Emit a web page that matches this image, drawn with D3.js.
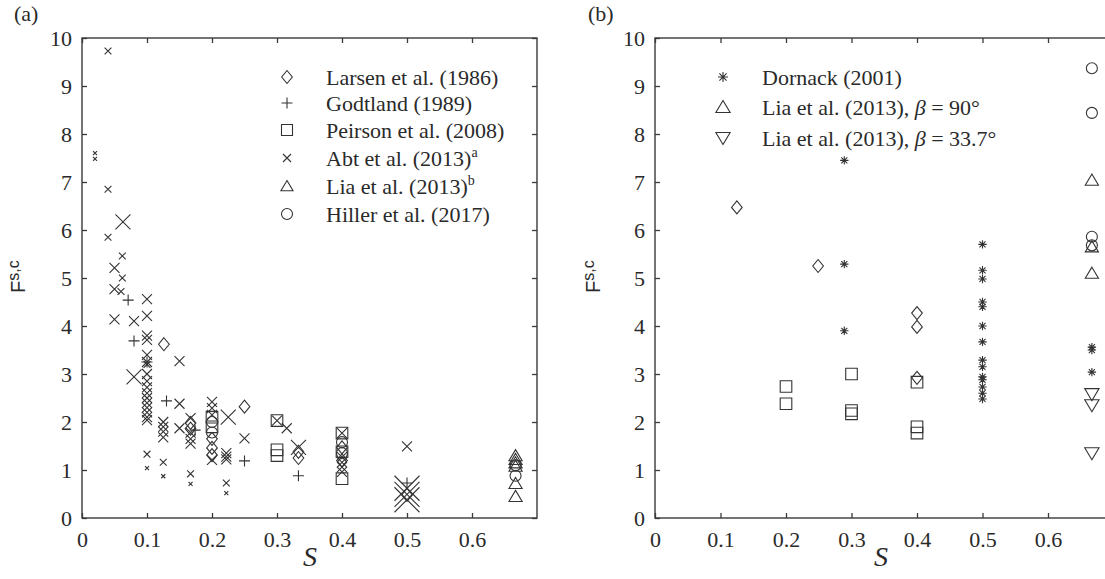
<!DOCTYPE html>
<html><head><meta charset="utf-8">
<script src="https://cdn.jsdelivr.net/npm/d3@7"></script>
<style>body{margin:0;background:#fff}svg{display:block}</style>
</head><body>
<svg id="c" width="1105" height="579"></svg>
<script>
// ---------- data ----------
const xTicks = [0, 0.1, 0.2, 0.3, 0.4, 0.5, 0.6];
const xTickLabels = ["0", "0.1", "0.2", "0.3", "0.4", "0.5", "0.6"];
const yTicks = [0, 1, 2, 3, 4, 5, 6, 7, 8, 9, 10];
const yTickLabels = ["0", "1", "2", "3", "4", "5", "6", "7", "8", "9", "10"];

// panel (a)  [S, Fs,c]
const larsenA = [[0.126,3.62],[0.167,1.98],[0.167,1.86],[0.2,1.65],[0.2,1.46],[0.2,1.31],[0.25,2.32],[0.333,1.38],[0.333,1.25],[0.4,1.47],[0.4,1.2],[0.5,0.48]];
const godtlandA = [[0.071,4.54],[0.08,3.69],[0.1,3.25],[0.13,2.44],[0.174,1.83],[0.25,1.19],[0.333,0.88],[0.5,0.73]];
const peirsonA = [[0.2,2.1],[0.2,1.9],[0.3,2.03],[0.3,1.42],[0.3,1.3],[0.4,1.77],[0.4,1.38],[0.4,0.82]];
// [S, Fs,c, group]  (group = marker size class in the source figure)
const abtA = [[0.04,9.73,1],[0.02,7.6,0],[0.02,7.48,0],[0.04,6.85,1],[0.063,6.17,3],[0.04,5.85,1],
  [0.062,5.46,1],[0.05,5.21,2],[0.062,5.0,1],[0.05,4.77,2],[0.06,4.72,1],[0.1,4.56,2],[0.1,4.21,2],
  [0.05,4.14,2],[0.08,4.10,2],[0.1,3.8,2],[0.1,3.71,2],[0.1,3.4,2],[0.15,3.27,2],[0.1,3.25,2],[0.1,3.2,1],
  [0.08,2.94,3],[0.1,3.0,2],[0.1,2.85,2],[0.1,2.72,2],[0.1,2.6,2],[0.1,2.5,2],[0.1,2.4,2],[0.1,2.3,2],
  [0.1,2.2,2],[0.1,2.1,2],[0.1,2.04,2],[0.1,1.33,1],[0.1,1.04,0],[0.15,2.38,2],
  [0.125,2.0,2],[0.125,1.9,2],[0.125,1.8,2],[0.125,1.68,2],[0.125,1.16,1],[0.125,0.87,0],[0.15,1.87,2],
  [0.167,2.08,2],[0.167,1.78,2],[0.167,1.65,2],[0.167,1.55,2],[0.167,0.92,1],[0.167,0.71,0],
  [0.2,2.42,2],[0.2,2.29,2],[0.2,2.15,2],[0.2,1.21,2],[0.225,2.1,3],[0.222,1.35,2],[0.222,1.28,2],[0.222,1.22,2],
  [0.222,0.73,1],[0.222,0.52,0],[0.25,1.66,2],[0.3,2.03,2],[0.315,1.87,2],[0.333,1.47,3],
  [0.4,1.77,2],[0.4,1.27,2],[0.4,1.16,2],[0.4,1.06,2],[0.4,0.96,2],[0.5,1.49,2],
  [0.5,0.62,4],[0.5,0.49,4],[0.5,0.38,4]];
const liaA = [[0.667,1.3],[0.667,1.22],[0.667,1.15],[0.667,1.08],[0.667,0.72],[0.667,0.45]];
const hillerA = [[0.2,2.0],[0.2,1.78],[0.4,1.58],[0.4,1.35],[0.667,1.1],[0.667,0.88]];

// panel (b)
const larsenB = [[0.125,6.47],[0.249,5.25],[0.4,4.27],[0.4,3.98],[0.4,2.92]];
const dornackB = [[0.289,7.45],[0.289,5.29],[0.289,3.9],[0.5,5.7],[0.5,5.16],[0.5,4.98],[0.5,4.5],[0.5,4.4],
  [0.5,4.0],[0.5,3.67],[0.5,3.29],[0.5,3.15],[0.5,2.94],[0.5,2.88],[0.5,2.73],[0.5,2.6],[0.5,2.48],
  [0.667,3.56],[0.667,3.5],[0.667,3.04]];
const peirsonB = [[0.2,2.74],[0.2,2.38],[0.3,3.0],[0.3,2.24],[0.3,2.17],[0.4,2.83],[0.4,1.9],[0.4,1.77]];
const lia90B = [[0.667,7.04],[0.667,5.65],[0.667,5.1]];
const lia337B = [[0.667,2.58],[0.667,2.35],[0.667,1.35]];
const hillerB = [[0.667,9.37],[0.667,8.44],[0.667,5.86],[0.667,5.68]];

const legendA = ["Larsen et al. (1986)", "Godtland (1989)", "Peirson et al. (2008)", "Abt et al. (2013)", "Lia et al. (2013)", "Hiller et al. (2017)"];
const legendASup = ["", "", "", "a", "b", ""];
const legendB = ["Dornack (2001)", "Lia et al. (2013), ", "Lia et al. (2013), "];
const legendBBeta = ["", " = 90°", " = 33.7°"];

// ---------- drawing ----------
const svg = d3.select("#c");
const INK = "#333";
const TXT = "#2a2a2a";
const serif = "'Liberation Serif','Times New Roman',serif";

function markerPath(type, r) {
  switch (type) {
    case "diamond": return `M0,${-r}L${r*0.82},0L0,${r}L${-r*0.82},0Z`;
    case "plus": return `M${-r},0H${r}M0,${-r}V${r}`;
    case "square": return `M${-r},${-r}H${r}V${r}H${-r}Z`;
    case "x": return `M${-r},${-r}L${r},${r}M${-r},${r}L${r},${-r}`;
    case "tri": return `M0,${-r}L${r*1.1},${r*0.85}L${-r*1.1},${r*0.85}Z`;
    case "tridown": return `M0,${r}L${r*1.1},${-r*0.85}L${-r*1.1},${-r*0.85}Z`;
    case "circle": return `M${r},0A${r},${r} 0 1,1 ${-r},0A${r},${r} 0 1,1 ${r},0Z`;
    case "star": { const d = r*0.72; return `M${-r},0H${r}M0,${-r}V${r}M${-d},${-d}L${d},${d}M${-d},${d}L${d},${-d}`; }
  }
}
const abtSize = d3.scaleOrdinal().domain([0,1,2,3,4]).range([2, 3.4, 5, 7.5, 12.5]);

function panel(x0, x1, label, labelX, yLabX, sLabX, drawRight) {
  const x = d3.scaleLinear().domain([0, 0.7]).range([x0, x1]);
  const y = d3.scaleLinear().domain([0, 10]).range([518, 38]);
  const g = svg.append("g");
  // box
  g.append("rect").attr("x", x0).attr("y", y(10)).attr("width", x1 - x0).attr("height", y(0) - y(10))
    .attr("fill", "none").attr("stroke", "#3a3a3a").attr("stroke-width", 1.4);
  const tl = 5;
  // bottom axis
  const ax = g.append("g").attr("transform", `translate(0,${y(0)})`)
    .call(d3.axisBottom(x).tickValues(xTicks).tickFormat((d, i) => xTickLabels[i]).tickSizeInner(-tl).tickSizeOuter(0));
  ax.select(".domain").remove();
  ax.selectAll("text").attr("y", 29).attr("dy", null);
  // top ticks
  const at = g.append("g").attr("transform", `translate(0,${y(10)})`)
    .call(d3.axisTop(x).tickValues(xTicks).tickFormat("").tickSizeInner(-tl).tickSizeOuter(0));
  at.select(".domain").remove();
  // left axis
  const ay = g.append("g").attr("transform", `translate(${x0},0)`)
    .call(d3.axisLeft(y).tickValues(yTicks).tickFormat((d, i) => yTickLabels[i]).tickSizeInner(-tl).tickSizeOuter(0));
  ay.select(".domain").remove();
  ay.selectAll("text").attr("x", -10).attr("dy", "0.34em");
  // right ticks
  const ar = g.append("g").attr("transform", `translate(${x1},0)`)
    .call(d3.axisRight(y).tickValues(yTicks).tickFormat("").tickSizeInner(-tl).tickSizeOuter(0));
  ar.select(".domain").remove();
  g.selectAll(".tick line").attr("stroke", "#3a3a3a").attr("stroke-width", 1.3);
  g.selectAll(".tick text").attr("fill", TXT).style("font-family", serif).style("font-size", "22px");

  // panel label
  svg.append("text").attr("x", labelX).attr("y", 21).text(label)
    .attr("fill", TXT).style("font-family", serif).style("font-size", "22px");
  // y label
  const yl = svg.append("text").attr("transform", `translate(${yLabX},293) rotate(-90)`)
    .attr("fill", TXT).style("font-family", "'Liberation Sans',Arial,sans-serif");
  yl.append("tspan").text("F").style("font-size", "20px");
  yl.append("tspan").text("s,c").attr("dy", -6).style("font-size", "16px");
  // x label
  svg.append("text").attr("x", sLabX).attr("y", 566).attr("text-anchor", "middle").text("S")
    .attr("fill", TXT).style("font-family", serif).style("font-style", "italic").style("font-size", "28px");
  return {x, y, g};
}

function plot(p, data, type, r) {
  p.g.append("g").selectAll("path").data(data).join("path")
    .attr("transform", d => `translate(${p.x(d[0])},${p.y(d[1])})`)
    .attr("d", d => markerPath(type, typeof r === "function" ? r(d) : r))
    .attr("fill", "none").attr("stroke", INK).attr("stroke-width", 1.1);
}

// panel a
const pa = panel(82, 537, "(a)", 14, 25, 310);
plot(pa, larsenA, "diamond", 6.5);
plot(pa, godtlandA, "plus", 5.5);
plot(pa, peirsonA, "square", 5.8);
plot(pa, abtA, "x", d => abtSize(d[2]));
plot(pa, liaA, "tri", 6);
plot(pa, hillerA, "circle", 5.5);

// legend a
const legTypesA = ["diamond", "plus", "square", "x", "tri", "circle"];
const legRowsA = [77, 103, 130, 158, 186, 214];
legendA.forEach((t, i) => {
  svg.append("path").attr("transform", `translate(287,${legRowsA[i]})`)
    .attr("d", markerPath(legTypesA[i], legTypesA[i] === "x" ? 4 : (legTypesA[i] === "diamond" ? 6.5 : 5.5)))
    .attr("fill", "none").attr("stroke", INK).attr("stroke-width", 1.1);
  const tx = svg.append("text").attr("x", 326).attr("y", legRowsA[i] + 8)
    .attr("fill", TXT).style("font-family", serif).style("font-size", "22px");
  tx.append("tspan").text(t);
  if (legendASup[i]) tx.append("tspan").text(legendASup[i]).attr("dy", -9).style("font-size", "14px");
});

// panel b
const pb = panel(655, 1113.5, "(b)", 588, 600, 881);
plot(pb, larsenB, "diamond", 6.5);
plot(pb, peirsonB, "square", 5.8);
plot(pb, dornackB, "star", 4.2);
plot(pb, lia90B, "tri", 6);
plot(pb, lia337B, "tridown", 6.5);
plot(pb, hillerB, "circle", 5.5);

// legend b
const legTypesB = ["star", "tri", "tridown"];
const legRowsB = [77, 107, 138];
legendB.forEach((t, i) => {
  svg.append("path").attr("transform", `translate(723,${legRowsB[i]})`)
    .attr("d", markerPath(legTypesB[i], legTypesB[i] === "star" ? 5 : 6.5))
    .attr("fill", "none").attr("stroke", INK).attr("stroke-width", 1.1);
  const tx = svg.append("text").attr("x", 762).attr("y", legRowsB[i] + 8)
    .attr("fill", TXT).style("font-family", serif).style("font-size", "22px");
  tx.append("tspan").text(t);
  if (legendBBeta[i]) {
    tx.append("tspan").text("β").style("font-style", "italic");
    tx.append("tspan").text(legendBBeta[i]);
  }
});
</script>
</body></html>
